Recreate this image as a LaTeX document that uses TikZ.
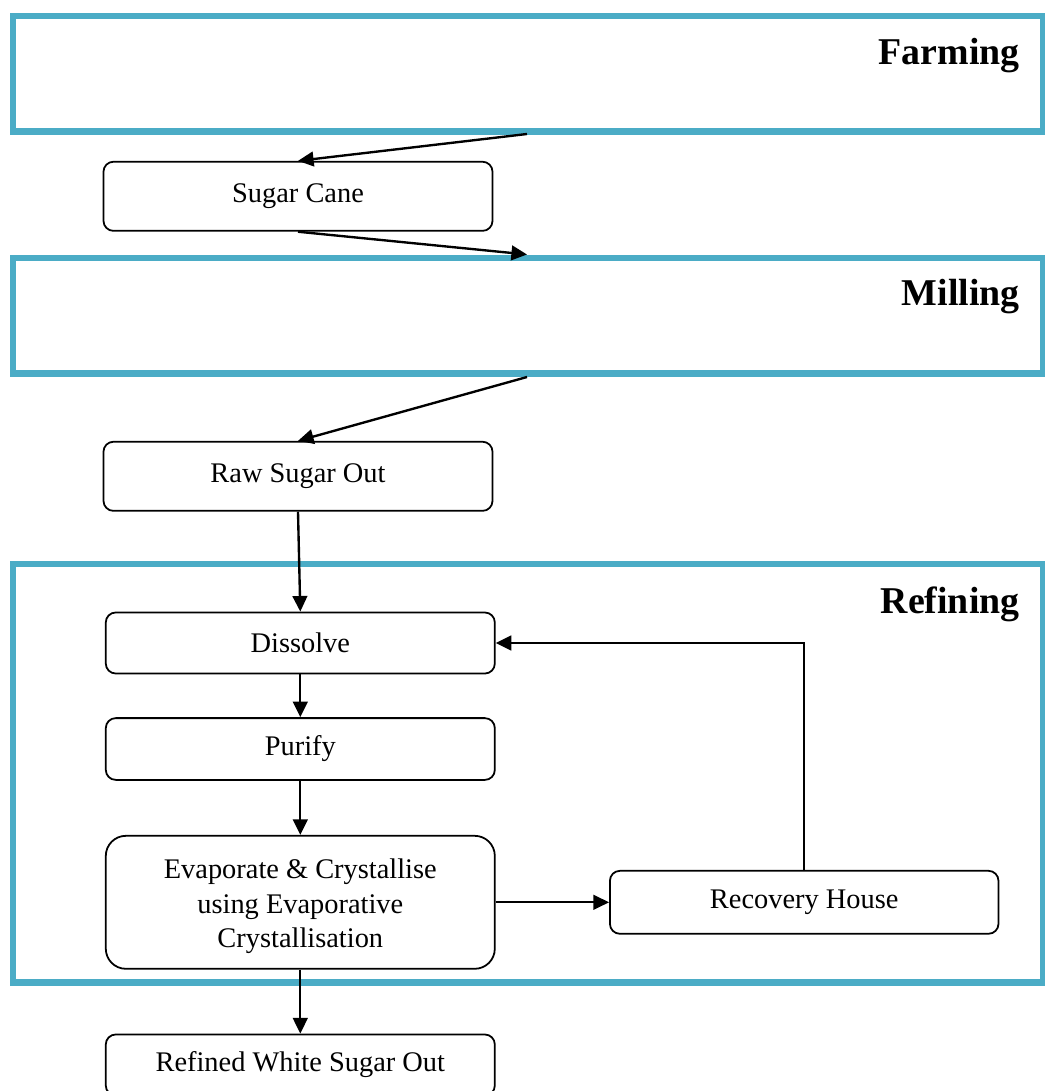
\documentclass[tikz,border=0pt]{standalone}
\usepackage{fontspec}
\setmainfont{Liberation Serif}
\usetikzlibrary{arrows.meta}

\definecolor{stageblue}{HTML}{4BACC6}

\begin{document}
\begin{tikzpicture}[x=0.4226pt,y=-0.4226pt,
    stage/.style={draw=stageblue,line width=2.7pt},
    stagename/.style={anchor=base east,inner sep=0pt,font=\bfseries\fontsize{16}{19}\selectfont},
    proc/.style={draw,line width=0.75pt,rounded corners=4.2pt,inner sep=0pt,
        minimum width=164.4pt,minimum height=26pt,align=center,
        font=\fontsize{12}{14.6}\selectfont},
    flow/.style={line width=1pt,-{Triangle[length=6.6pt,width=6.2pt]}}]
        \tikzstyle{every node}+=[inner sep=0pt]
        \useasboundingbox (0,0) rectangle (1045,1091);
        % stages
        \draw [stage] (13,15.7) rectangle (1043,131.5);
        \draw [stage] (13,257.7) rectangle (1043,373.5);
        \draw [stage] (13,564.3) rectangle (1043,982.5);
        \node [stagename] (farming) at (1020,65) {Farming};
        \node [stagename] (milling) at (1020,306) {Milling};
        \node [stagename] (refining) at (1020,613) {Refining};
        \coordinate (farmout) at (527,134);
        \coordinate (millin) at (527,254.5);
        \coordinate (millout) at (527,377);
        % steps
        \node [proc,minimum height=29.2pt] (cane) at (298,196.3) {Sugar Cane};
        \node [proc,minimum height=29.2pt] (raw) at (298,476.3) {Raw Sugar Out};
        \node [proc,minimum height=25.8pt] (dissolve) at (300.3,643) {Dissolve};
        \node [proc,minimum height=26.1pt] (purify) at (300.3,749) {Purify};
        \node [proc,minimum height=56.2pt,rounded corners=8.5pt] (evap) at (300.3,902.3)
            {\rule{0pt}{12pt}Evaporate \& Crystallise\\using Evaporative\\Crystallisation};
        \node [proc,minimum width=164.2pt,minimum height=26.6pt] (recovery) at (804.2,902.3) {Recovery House};
        \node [proc,minimum height=25.8pt] (refined) at (300.3,1065) {Refined White Sugar Out};
        % flows
        \draw [flow] (farmout) -- (cane.north);
        \draw [flow] (cane.south) -- (millin);
        \draw [flow] (millout) -- (raw.north);
        \draw [flow] (raw.south) -- (dissolve.north);
        \draw [flow] (dissolve.south) -- (purify.north);
        \draw [flow] (purify.south) -- (evap.north);
        \draw [flow] (evap.east) -- (recovery.west);
        \draw [flow] (recovery.north) |- (dissolve.east);
        \draw [flow] (evap.south) -- (refined.north);
\end{tikzpicture}
\end{document}
